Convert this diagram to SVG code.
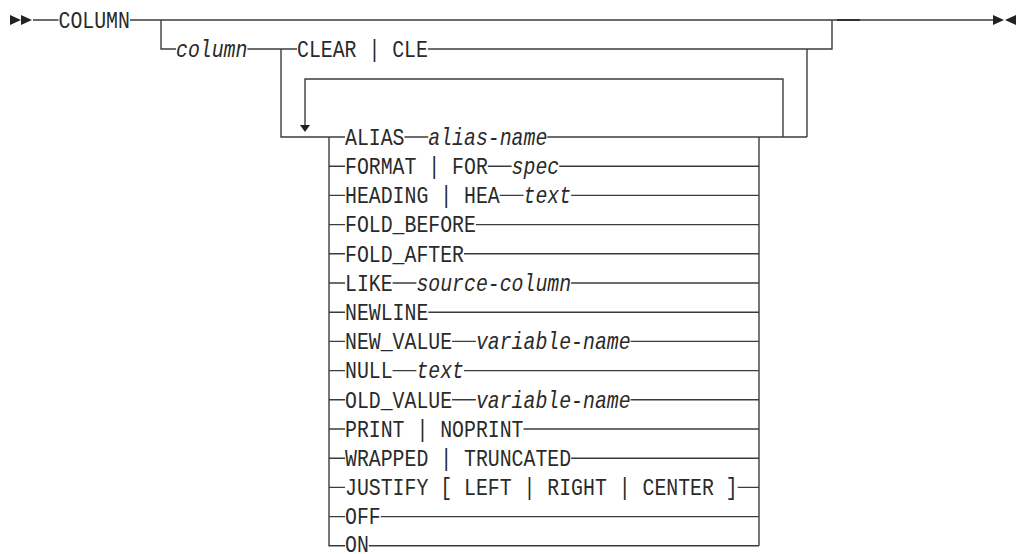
<svg xmlns="http://www.w3.org/2000/svg" width="1018" height="554" viewBox="0 0 1018 554">
<style>
.t{stroke:#3c3c3c;stroke-width:1.4;fill:none}
.a{fill:#222}
text{font-family:"Liberation Mono","DejaVu Sans Mono",monospace;font-size:23.5px;fill:#2a2a2a}
.v{font-style:italic}
</style>
<rect width="1018" height="554" fill="#fff"/>
<g id="connectors" class="t">
<path d="M33,20 H58.5 M129.9,20 H993"/>
<path d="M837,20 H860" stroke-width="1.8" stroke="#2a2a2a"/>
<path d="M161,20 V49 H176 M247.4,49 H297 M427.9,49 H832 V20"/>
<path d="M281,49 V137 H345"/>
<path d="M807,49 V137"/>
<path d="M305,126 V79 H783 V137"/>
<path d="M329,137 V545.8 H345"/>
<path d="M759,137 V545.8"/>
<path d="M404.5,137 H428.3 M547.3,137 H807"/>
<path d="M329,166.2 H345 M487.8,166.2 H511.6 M559.2,166.2 H759"/>
<path d="M329,195.4 H345 M499.7,195.4 H523.5 M571.1,195.4 H759"/>
<path d="M329,224.6 H345 M475.9,224.6 H759"/>
<path d="M329,253.8 H345 M464,253.8 H759"/>
<path d="M329,283 H345 M392.6,283 H416.4 M571.1,283 H759"/>
<path d="M329,312.2 H345 M428.3,312.2 H759"/>
<path d="M329,341.4 H345 M452.1,341.4 H475.9 M630.6,341.4 H759"/>
<path d="M329,370.6 H345 M392.6,370.6 H416.4 M464,370.6 H759"/>
<path d="M329,399.8 H345 M452.1,399.8 H475.9 M630.6,399.8 H759"/>
<path d="M329,429 H345 M523.5,429 H759"/>
<path d="M329,458.2 H345 M571.1,458.2 H759"/>
<path d="M329,487.4 H345 M737.7,487.4 H759"/>
<path d="M329,516.6 H345 M380.7,516.6 H759"/>
<path d="M368.8,545.8 H759"/>
</g>
<g id="markers" class="a">
<path d="M10,15 L21,20 L10,25 Z M21,15 L32,20 L21,25 Z"/>
<path d="M993,15 L1004,20 L993,25 Z M1016,15 L1005,20 L1016,25 Z"/>
<path d="M300,125 L310,125 L305,132 Z"/>
</g>
<g id="n-column"><text x="58.5" y="27.8" textLength="71.4" lengthAdjust="spacingAndGlyphs">COLUMN</text></g>
<g id="n-column-var"><text class="v" x="176" y="56.8" textLength="71.4" lengthAdjust="spacingAndGlyphs">column</text></g>
<g id="n-clear"><text x="297" y="56.8" textLength="130.9" lengthAdjust="spacingAndGlyphs">CLEAR | CLE</text></g>
<g id="n-alias"><text x="345" y="144.8" textLength="59.5" lengthAdjust="spacingAndGlyphs">ALIAS</text><text class="v" x="428.3" y="144.8" textLength="119" lengthAdjust="spacingAndGlyphs">alias-name</text></g>
<g id="n-format"><text x="345" y="174" textLength="142.8" lengthAdjust="spacingAndGlyphs">FORMAT | FOR</text><text class="v" x="511.6" y="174" textLength="47.6" lengthAdjust="spacingAndGlyphs">spec</text></g>
<g id="n-heading"><text x="345" y="203.2" textLength="154.7" lengthAdjust="spacingAndGlyphs">HEADING | HEA</text><text class="v" x="523.5" y="203.2" textLength="47.6" lengthAdjust="spacingAndGlyphs">text</text></g>
<g id="n-fold-before"><text x="345" y="232.4" textLength="130.9" lengthAdjust="spacingAndGlyphs">FOLD_BEFORE</text></g>
<g id="n-fold-after"><text x="345" y="261.6" textLength="119" lengthAdjust="spacingAndGlyphs">FOLD_AFTER</text></g>
<g id="n-like"><text x="345" y="290.8" textLength="47.6" lengthAdjust="spacingAndGlyphs">LIKE</text><text class="v" x="416.4" y="290.8" textLength="154.7" lengthAdjust="spacingAndGlyphs">source-column</text></g>
<g id="n-newline"><text x="345" y="320" textLength="83.3" lengthAdjust="spacingAndGlyphs">NEWLINE</text></g>
<g id="n-new-value"><text x="345" y="349.2" textLength="107.1" lengthAdjust="spacingAndGlyphs">NEW_VALUE</text><text class="v" x="475.9" y="349.2" textLength="154.7" lengthAdjust="spacingAndGlyphs">variable-name</text></g>
<g id="n-null"><text x="345" y="378.4" textLength="47.6" lengthAdjust="spacingAndGlyphs">NULL</text><text class="v" x="416.4" y="378.4" textLength="47.6" lengthAdjust="spacingAndGlyphs">text</text></g>
<g id="n-old-value"><text x="345" y="407.6" textLength="107.1" lengthAdjust="spacingAndGlyphs">OLD_VALUE</text><text class="v" x="475.9" y="407.6" textLength="154.7" lengthAdjust="spacingAndGlyphs">variable-name</text></g>
<g id="n-print"><text x="345" y="436.8" textLength="178.5" lengthAdjust="spacingAndGlyphs">PRINT | NOPRINT</text></g>
<g id="n-wrapped"><text x="345" y="466" textLength="226.1" lengthAdjust="spacingAndGlyphs">WRAPPED | TRUNCATED</text></g>
<g id="n-justify"><text x="345" y="495.2" textLength="392.7" lengthAdjust="spacingAndGlyphs">JUSTIFY [ LEFT | RIGHT | CENTER ]</text></g>
<g id="n-off"><text x="345" y="524.4" textLength="35.7" lengthAdjust="spacingAndGlyphs">OFF</text></g>
<g id="n-on"><text x="345" y="551.5" textLength="23.8" lengthAdjust="spacingAndGlyphs">ON</text></g>
</svg>
